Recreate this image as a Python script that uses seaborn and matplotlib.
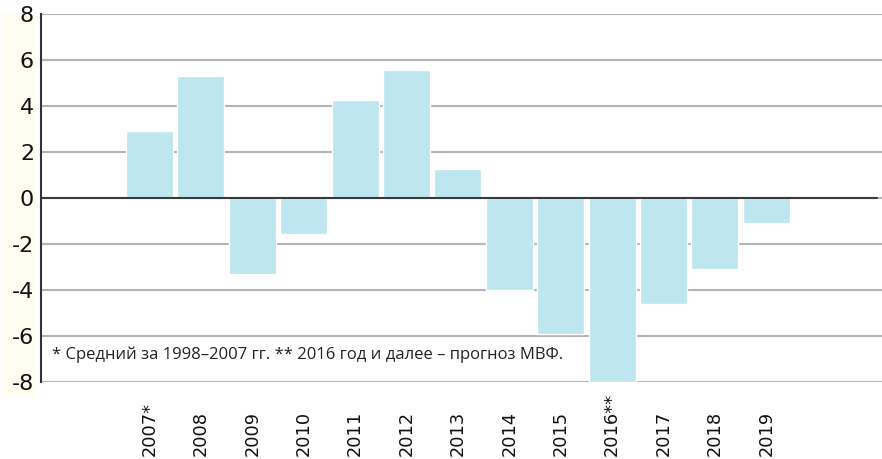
import numpy as np
import pandas as pd
import seaborn as sns
import matplotlib.pyplot as plt
from matplotlib.patches import Rectangle

years = ['2007', '2008', '2009', '2010', '2011', '2012', '2013',
         '2014', '2015', '2016', '2017', '2018', '2019']
values = [2.9, 5.3, -3.3, -1.55, 4.25, 5.55, 1.25,
          -4.0, -5.9, -8.0, -4.6, -3.1, -1.1]
tick_labels = ['2007*', '2008', '2009', '2010', '2011', '2012', '2013',
               '2014', '2015', '2016**', '2017', '2018', '2019']
y_ticks = [-8, -6, -4, -2, 0, 2, 4, 6, 8]
note = '* Средний за 1998–2007 гг. ** 2016 год и далее – прогноз МВФ.'

df = pd.DataFrame({'year': years, 'value': values})

sns.set_style('white')
plt.rcParams['font.family'] = ['DejaVu Sans']

fig = plt.figure(figsize=(8.82, 4.59), dpi=100)
ax = fig.add_axes([41 / 882, 1 - 382 / 459, 1 - 41 / 882, (382 - 14) / 459])

# cream strip behind the y tick labels
fig.patches.append(Rectangle((3 / 882, 1 - 395 / 459), 32 / 882, 382 / 459,
                             transform=fig.transFigure, facecolor='#fefdf0',
                             edgecolor='none', zorder=-1))

sns.barplot(data=df, x='year', y='value', color='#bee6f0', saturation=1,
            width=0.915, ax=ax, zorder=2)

ax.set_xlim(-2.11, 14.25)
ax.set_ylim(-8, 8)
ax.set_yticks(y_ticks)
ax.set_yticklabels([str(t) for t in y_ticks], fontsize=16, color='#111111')
ax.set_xticks(range(len(years)))
ax.set_xticklabels(tick_labels, rotation=90, fontsize=12.8, va='bottom',
                   color='#111111')
ax.tick_params(axis='x', length=0, pad=53)
ax.tick_params(axis='y', length=0, pad=5)
ax.set_xlabel('')
ax.set_ylabel('')

ax.yaxis.grid(True, color='#b4b4b4', linewidth=1.5)
ax.set_axisbelow(True)
ax.axhline(0, xmax=0.994, color='#3a3a3a', linewidth=1.5, zorder=3)

for side in ['top', 'right', 'bottom']:
    ax.spines[side].set_visible(False)
ax.spines['left'].set_color('#333333')
ax.spines['left'].set_linewidth(1.5)

ax.text(0.013, 0.073, note, transform=ax.transAxes, fontsize=12,
        family=['Open Sans', 'DejaVu Sans'], va='center', ha='left', color='#222222')

fig.savefig('out.png', dpi=100)
